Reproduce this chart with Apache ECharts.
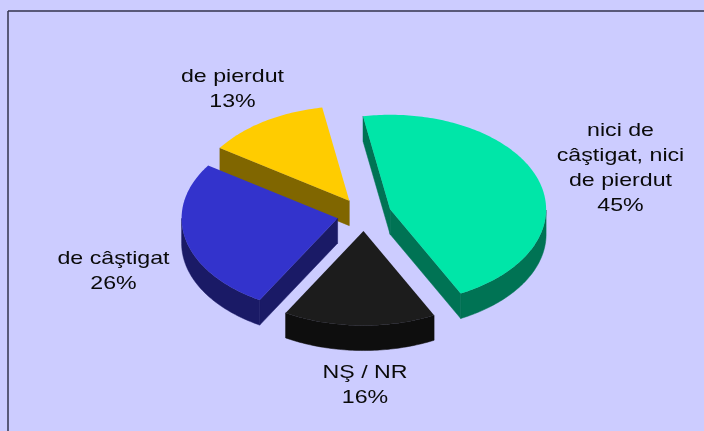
<!DOCTYPE html>
<html>
<head>
<meta charset="utf-8">
<style>html,body{margin:0;padding:0;background:#CCCCFF}#c{width:704px;height:431px}</style>
<script src="https://cdn.jsdelivr.net/npm/echarts@6/dist/echarts.min.js"></script>
</head>
<body>
<div id="c"></div>
<script>
const categories = ['nici de\ncâştigat, nici\nde pierdut', 'NŞ / NR', 'de câştigat', 'de pierdut'];
const shares = [45.3, 15.8, 26.1, 12.8];
const topColors = ['#00E6A8', '#1C1C1C', '#3333CC', '#FFCC00'];
const wallColors = ['#007354', '#0E0E0E', '#1A1A66', '#806600'];
const labelCenters = [[620.5, 168], [365, 385], [113.5, 271], [232.5, 89.5]];

const centerX = 364.2, centerY = 214.5, radiusX = 156, radiusY = 94.5;
const explode = 27.3, depth = 25, startDeg = -10;
const total = shares.reduce((a, b) => a + b, 0);

function renderSlice(params, api) {
  const i = params.dataIndex;
  const value = api.value(0);
  let before = 0;
  for (let k = 0; k < i; k++) before += shares[k];
  const a0 = startDeg + before / total * 360;
  const a1 = a0 + value / total * 360;
  const rad = Math.PI / 180;
  const mid = (a0 + a1) / 2 * rad;
  const cx = centerX + explode * Math.sin(mid);
  const cy = centerY - explode * Math.cos(mid) * radiusY / radiusX;
  const rim = d => [cx + radiusX * Math.sin(d * rad), cy - radiusY * Math.cos(d * rad)];
  const down = p => [p[0], p[1] + depth];
  const steps = Math.ceil(a1 - a0);
  const arc = [], front = [];
  for (let s = 0; s <= steps; s++) {
    const d = a0 + (a1 - a0) * s / steps;
    arc.push(rim(d));
    if (Math.cos(d * rad) <= 0) front.push(rim(d));
  }
  const apex = [cx, cy];
  const z = shares.length - i;
  const children = [];
  const wall = points => children.push({
    type: 'polygon', z2: z, shape: { points },
    style: { fill: wallColors[i], stroke: wallColors[i], lineWidth: 0.5 }
  });
  if (front.length > 1) wall(front.concat(front.slice().reverse().map(down)));
  if (Math.sin(a0 * rad) < 0) { const P = rim(a0); wall([apex, P, down(P), down(apex)]); }
  if (Math.sin(a1 * rad) > 0) { const P = rim(a1); wall([apex, P, down(P), down(apex)]); }
  children.push({
    type: 'polygon', z2: z + 0.5,
    shape: { points: [apex].concat(arc) },
    style: { fill: topColors[i] }
  });
  children.push({
    type: 'text', z2: 20,
    x: labelCenters[i][0], y: labelCenters[i][1], scaleX: 1.22,
    style: {
      text: categories[i] + '\n' + Math.round(value) + '%',
      font: '19px "Liberation Sans", Arial, sans-serif',
      fill: '#0A0A0A', align: 'center', verticalAlign: 'middle', lineHeight: 25
    }
  });
  return { type: 'group', children };
}

const chart = echarts.init(document.getElementById('c'), null, { renderer: 'canvas' });
chart.setOption({
  backgroundColor: '#CCCCFF',
  animation: false,
  graphic: [
    { type: 'line', silent: true, shape: { x1: 8, y1: 11, x2: 8, y2: 431 }, style: { stroke: '#33334D', lineWidth: 1.5 } },
    { type: 'line', silent: true, shape: { x1: 8, y1: 11, x2: 704, y2: 11 }, style: { stroke: '#33334D', lineWidth: 1.5 } }
  ],
  series: [{
    type: 'custom',
    coordinateSystem: 'none',
    silent: true,
    renderItem: renderSlice,
    data: shares.map(v => [v])
  }]
});
</script>
</body>
</html>
